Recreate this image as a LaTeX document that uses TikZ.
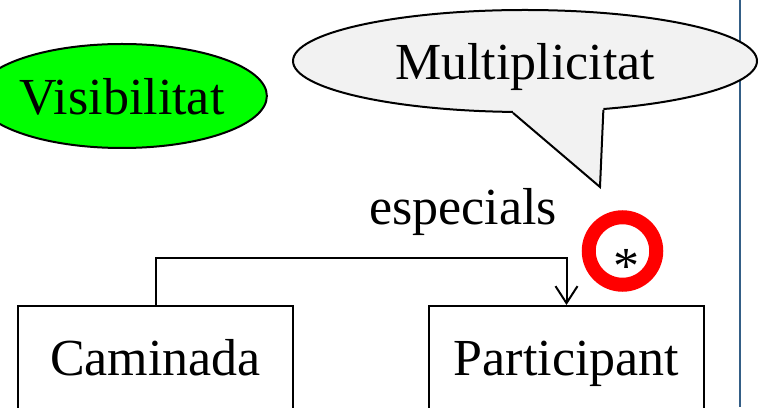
\documentclass[tikz,border=0pt]{standalone}
\usepackage{fontspec}
\setmainfont{Liberation Serif}
\usetikzlibrary{arrows.meta,shapes.geometric}
\definecolor{bubblegray}{RGB}{242,242,242}
\definecolor{visgreen}{RGB}{0,255,0}
\definecolor{frameblue}{RGB}{52,94,134}

\begin{document}
\begin{tikzpicture}[x=1pt, y=1pt,
    big/.style={font=\fontsize{52}{60}\selectfont},
    bubble/.style={ellipse, draw, line width=2pt, inner sep=0pt, big,
        text height=38pt, text depth=0pt},
    classbox/.style={rectangle, draw, line width=2pt, minimum width=275pt,
        minimum height=114pt, big, text height=36pt, text depth=12pt},
    assoc/.style={line width=2pt, -{Straight Barb[length=17pt, width=22pt]}}]
    \useasboundingbox (0,0) rectangle (760,407);
    % draw frame line
    \draw[frameblue, line width=2pt] (739.5,407) -- (739.5,0);
    % draw bubbles
    \node[bubble, fill=visgreen, minimum width=272pt, minimum height=104pt]
        (vis) at (122,311) {Visibilitat};
    \node[bubble, fill=bubblegray, minimum width=464pt, minimum height=102pt]
        (mult) at (525,346) {Multiplicitat};
    % draw callout tail
    \coordinate (tip) at (600,220);
    \fill[bubblegray] (mult.-103) -- (tip) -- (mult.-32)
        -- ([yshift=3pt]mult.-32) -- ([yshift=3pt]mult.-103) -- cycle;
    \draw[line width=2pt] (mult.-103) -- (tip) -- (mult.-32);
    % draw classes
    \node[classbox] (cam) at (155.5,44) {Caminada};
    \node[classbox] (part) at (566.5,44) {Participant};
    % draw association
    \draw[assoc] (cam.north) -- ++(0,47) -| (part.north);
    \node[big, anchor=base] (role) at (463,182) {especials};
    % draw multiplicity
    \node[circle, draw=red, line width=14pt, minimum size=67.5pt, inner sep=0pt]
        (ring) at (622.5,156) {};
    \node[big] (star) at (626.5,141) {*};
\end{tikzpicture}
\end{document}
